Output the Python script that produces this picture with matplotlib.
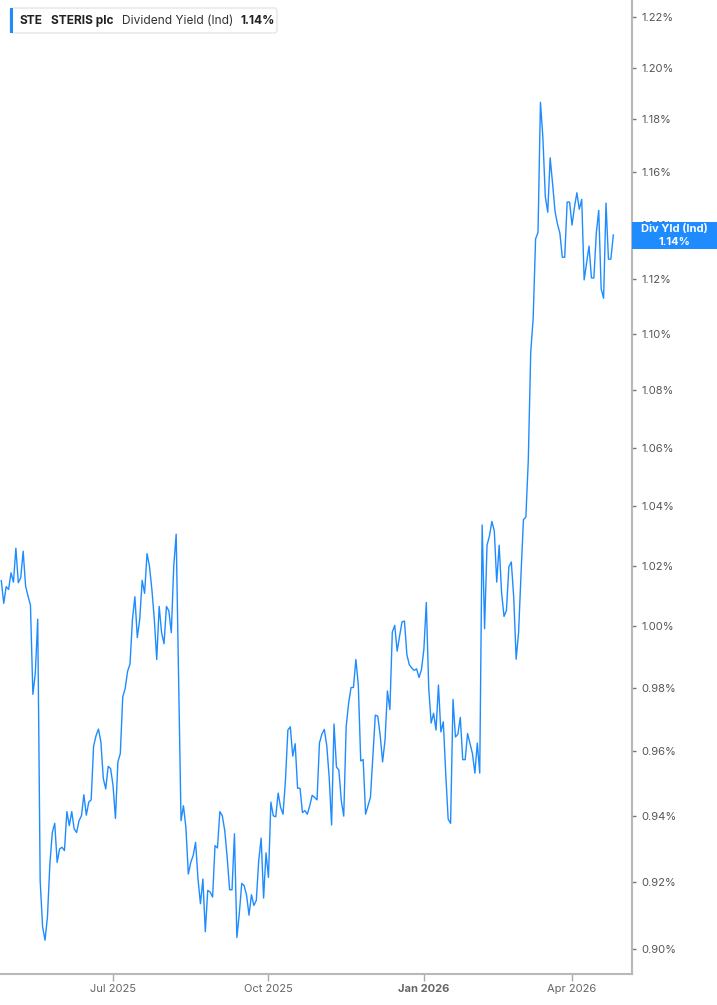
import matplotlib.pyplot as plt
import matplotlib.patches as mpatches
from matplotlib.transforms import IdentityTransform
import pandas as pd

plt.rcParams['font.family'] = ['Inter', 'DejaVu Sans']

# NYSE closures in the window
holidays = ['2025-05-26', '2025-06-19', '2025-07-04', '2025-09-01', '2025-11-27',
            '2025-12-25', '2026-01-01', '2026-01-19', '2026-02-16', '2026-04-03']

# STE dividend yield (indicated), % - one value per trading day
yield_pct = [
    1.015, 1.0075, 1.013, 1.0121, 1.0176, 1.0145, 1.0258, 1.0143, 1.016, 1.0248,
    1.0132, 1.0099, 1.0069, 0.978, 0.9848, 1.0023, 0.9203, 0.9066, 0.9026, 0.9095,
    0.9254, 0.9349, 0.9377, 0.9258, 0.9299, 0.9304, 0.9294, 0.9413, 0.937, 0.9413,
    0.936, 0.9349, 0.9385, 0.94, 0.9465, 0.9402, 0.9442, 0.9449, 0.9616, 0.9649,
    0.967, 0.963, 0.9515, 0.9483, 0.9553, 0.9546, 0.9494, 0.9392, 0.9567, 0.9593,
    0.9772, 0.9799, 0.9854, 0.9878, 1.0023, 1.0097, 0.9963, 1.0023, 1.0151, 1.0108,
    1.024, 1.0198, 1.0121, 1.0023, 0.9892, 1.0065, 0.9979, 0.9943, 1.0065, 1.005,
    0.9979, 1.0198, 1.0305, 0.9836, 0.9385, 0.9431, 0.9365, 0.9223, 0.9258, 0.9279,
    0.9319, 0.9208, 0.9134, 0.9208, 0.9051, 0.9174, 0.9169, 0.9154, 0.9309, 0.9302,
    0.9413, 0.94, 0.9355, 0.9274, 0.9176, 0.9176, 0.9345, 0.9034, 0.9105, 0.9195,
    0.9188, 0.9159, 0.91, 0.9161, 0.9129, 0.9144, 0.9264, 0.9332, 0.9151, 0.9287,
    0.9213, 0.9442, 0.94, 0.9397, 0.947, 0.9426, 0.9405, 0.9509, 0.9667, 0.9677,
    0.9585, 0.9624, 0.9485, 0.9485, 0.941, 0.9416, 0.9405, 0.9431, 0.9463, 0.9457,
    0.9449, 0.9626, 0.9654, 0.9669, 0.9619, 0.952, 0.9372, 0.9686, 0.9551, 0.9541,
    0.9447, 0.9399, 0.9677, 0.9751, 0.9802, 0.9802, 0.9892, 0.981, 0.957, 0.9574,
    0.9405, 0.9431, 0.9457, 0.9582, 0.9714, 0.9711, 0.9651, 0.9567, 0.9635, 0.9791,
    0.9732, 0.9981, 1.0003, 0.9919, 0.9968, 1.0014, 1.0017, 0.9908, 0.9875, 0.9865,
    0.9857, 0.9862, 0.9834, 0.9859, 0.9925, 1.0078, 0.98, 0.9689, 0.972, 0.9667,
    0.981, 0.9661, 0.9693, 0.953, 0.939, 0.9377, 0.9764, 0.9645, 0.9654, 0.9707,
    0.9574, 0.9574, 0.9656, 0.9624, 0.9593, 0.9532, 0.9626, 0.9532, 1.0336, 0.9992,
    1.0268, 1.0299, 1.0348, 1.0316, 1.0145, 1.0268, 1.011, 1.0032, 1.0052, 1.0196,
    1.0212, 1.0094, 0.9893, 0.998, 1.0172, 1.0354, 1.0363, 1.0558, 1.0936, 1.1056,
    1.1348, 1.1372, 1.1865, 1.173, 1.1506, 1.1447, 1.1652, 1.1554, 1.1451, 1.1403,
    1.1369, 1.128, 1.128, 1.1485, 1.1485, 1.1399, 1.1465, 1.152, 1.1458, 1.1495,
    1.1197, 1.1259, 1.1321, 1.1204, 1.1204, 1.1369, 1.1454, 1.1164, 1.113, 1.1481,
    1.1273, 1.1273, 1.1362,
]

dates = pd.bdate_range('2025-04-24', periods=len(yield_pct), freq='C', holidays=holidays)
x = list(range(len(dates)))

y_ticks = [0.90, 0.92, 0.94, 0.96, 0.98, 1.00, 1.02, 1.04, 1.06, 1.08,
           1.10, 1.12, 1.14, 1.16, 1.18, 1.20, 1.22]
tick_months = ['2025-07', '2025-10', '2026-01', '2026-04']

line_col = '#1e8cff'
W, H = 717, 1005

fig = plt.figure(figsize=(W / 100, H / 100), dpi=100)
ax = fig.add_axes([0, 31 / H, 632 / W, 974 / H])

ax.plot(x, yield_pct, color=line_col, lw=1.0)

ax.set_yscale('log')
ax.set_ylim(0.8927, 1.2268)
ax.set_xlim(-0.54, 259.7)
ax.yaxis.tick_right()
ax.set_yticks(y_ticks)
ax.set_yticklabels([f'{t:.2f}%' for t in y_ticks])
ax.minorticks_off()

# first trading day of each labelled month
xt, xl = [], []
for m in tick_months:
    idx = [i for i, d in enumerate(dates) if d.strftime('%Y-%m') == m][0]
    xt.append(idx)
    xl.append(dates[idx].strftime('%b %Y'))
ax.set_xticks(xt)
ax.set_xticklabels(xl)
for lab in ax.get_xticklabels():
    if lab.get_text().startswith('Jan'):
        lab.set_fontweight('bold')
        lab.set_fontsize(9.5)
        lab.set_color('#444444')

for s in ['left', 'top']:
    ax.spines[s].set_visible(False)
for s in ['right', 'bottom']:
    ax.spines[s].set_color('#b8b8b8')
    ax.spines[s].set_linewidth(1.5)

ax.tick_params(axis='y', length=3, width=1, color='#777777', labelsize=8,
               labelcolor='#555555', pad=4)
ax.tick_params(axis='x', length=5, width=1, color='#aaaaaa', labelsize=8,
               labelcolor='#666666', pad=2)

# legend chip in the top-left
px = IdentityTransform()
fig.add_artist(mpatches.FancyBboxPatch((10, H - 33), 267, 25,
                                       boxstyle='round,pad=0,rounding_size=3',
                                       facecolor='white', edgecolor='#e6e6e6',
                                       lw=1, transform=px, zorder=5))
fig.add_artist(mpatches.Rectangle((10, H - 33), 3, 25, facecolor=line_col,
                                  edgecolor='none', transform=px, zorder=6))
renderer = fig.canvas.get_renderer()
ty = H - 20.5
cx = 20
parts = [('STE', 'bold', '#222222'), ('STERIS plc', 'bold', '#222222'),
         ('Dividend Yield (Ind)', 'normal', '#333333'),
         (f'{yield_pct[-1]:.2f}%', 'bold', '#222222')]
for txt, wt, col in parts:
    t = fig.text(cx, ty, txt, transform=px, fontsize=8.6, fontweight=wt,
                 color=col, va='center', zorder=7)
    cx += t.get_window_extent(renderer).width + 8

# last-value tag on the right axis
ly = ax.transData.transform((0, yield_pct[-1]))[1]
fig.add_artist(mpatches.Rectangle((632, ly - 13.5), 85, 27, facecolor='#1e8cff',
                                  edgecolor='none', transform=px, zorder=5))
fig.text(674.5, ly + 6, 'Div Yld (Ind)', transform=px, fontsize=8,
         fontweight='bold', color='white', ha='center', va='center', zorder=6)
fig.text(674.5, ly - 6.5, f'{yield_pct[-1]:.2f}%', transform=px, fontsize=8,
         fontweight='bold', color='white', ha='center', va='center', zorder=6)

plt.savefig('out.png', dpi=100)
